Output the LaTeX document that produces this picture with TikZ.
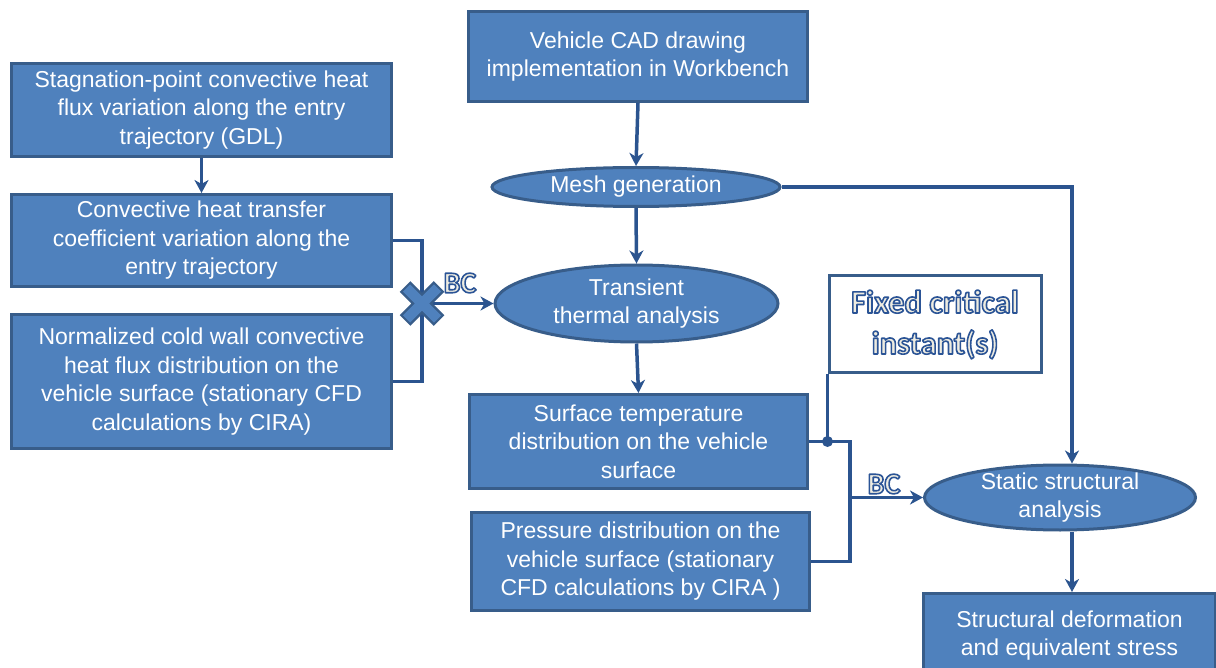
\documentclass[tikz,border=0pt]{standalone}
\usepackage{fontspec}
\setmainfont{Liberation Sans}
\newfontfamily\carlito{Carlito}
\usetikzlibrary{arrows.meta,shapes.geometric,calc}
\definecolor{fillc}{HTML}{4F81BD}
\definecolor{bord}{HTML}{385D8A}
\definecolor{conn}{HTML}{2B548F}
\definecolor{cream}{HTML}{EEECE1}
\newcommand{\olt}[1]{\special{pdf:literal 2 Tr 1.6 w 1 j 0.17 0.33 0.59 RG}#1\special{pdf:literal 0 Tr}}
\tikzset{
  box/.style={draw=bord, fill=fillc, line width=3pt, text=white, align=center, inner sep=0pt,
    font={\fontsize{23}{28.5}\selectfont}, anchor=north west},
  ell/.style={ellipse, draw=bord, fill=fillc, line width=3pt, text=white, align=center, inner sep=-20pt,
    font={\fontsize{23}{28.5}\selectfont}},
  conline/.style={draw=conn, line width=3.5pt},
  arr/.style={conline, -{Stealth[length=13pt,width=14pt,inset=4pt]}},
  bclabel/.style={text=cream, font={\carlito\bfseries\fontsize{30}{30}\selectfont}, inner sep=0pt},
}
\begin{document}
\begin{tikzpicture}[x=1pt,y=-1pt]
\useasboundingbox (0,0) rectangle (1216,668);
% boxes
\node[box, minimum width=339pt, minimum height=90pt] (cad) at (467,10) {Vehicle CAD drawing\\implementation in Workbench};
\node[box, minimum width=380pt, minimum height=93pt] (stag) at (10,62) {Stagnation-point convective heat\\flux variation along the entry\\trajectory (GDL)};
\node[box, minimum width=380pt, minimum height=92pt] (conv) at (10,193) {Convective heat transfer\\coefficient variation along the\\entry trajectory};
\node[box, minimum width=380pt, minimum height=134pt] (norm) at (10,313) {Normalized cold wall convective\\heat flux distribution on the\\vehicle surface (stationary CFD\\calculations by CIRA)};
\node[box, minimum width=338pt, minimum height=94pt] (surf) at (468,393) {Surface temperature\\distribution on the vehicle\\surface};
\node[box, minimum width=338pt, minimum height=98pt] (press) at (470,511) {Pressure distribution on the\\vehicle surface (stationary\\CFD calculations by CIRA )};
\node[box, minimum width=292pt, minimum height=84pt] (struct) at (922,592) {Structural deformation\\and equivalent stress};
% ellipses
\node[ell, minimum width=288pt, minimum height=39pt] (mesh) at (636,187) {Mesh generation};
\node[ell, minimum width=283pt, minimum height=77pt] (trans) at (636.5,303.5) {Transient\\thermal analysis};
\node[ell, minimum width=271pt, minimum height=65pt] (static) at (1060,497.5) {Static structural\\analysis};
% fixed critical box
\node[draw=bord, fill=white, line width=3pt, minimum width=212pt, minimum height=97pt, inner sep=0pt, align=center,
  text=cream, font={\carlito\bfseries\fontsize{32.5}{41}\selectfont}] (fixed) at (935,324.5)
  {\olt{Fixed critical}\\\olt{instant(s)}};
% coordinates
\coordinate (bx) at (422,303.5);
\coordinate (rx) at (850,497.5);
\coordinate (mx) at (1072,187);
% connectors
\draw[arr] (cad.south) -- (mesh.north);
\draw[arr] (stag.south) -- (conv.north);
\draw[arr] (mesh.south) -- (trans.north);
\draw[arr] (trans.south) -- (surf.north);
\draw[conline] (conv.east) -| (norm.east -| bx) -- (norm.east);
\draw[arr] (bx) -- (trans.west);
\draw[conline] (surf.east) -| (press.east -| rx) -- (press.east);
\draw[arr] (rx) -- (static.west);
\draw[conline] (surf.east -| fixed.south west) -- (fixed.south west);
\fill[conn] (surf.east -| fixed.south west) circle (5.5pt);
\draw[arr] (mesh.east) -- (mx) -- (mx |- static.north);
\draw[arr] (static.south -| mx) -- (struct.north -| mx);
% cross marker
\draw[draw=bord, line width=15pt] ($(bx)+(-17,-17)$) -- ($(bx)+(17,17)$) ($(bx)+(-17,17)$) -- ($(bx)+(17,-17)$);
\draw[draw=fillc, line width=10pt] ($(bx)+(-15.5,-15.5)$) -- ($(bx)+(15.5,15.5)$) ($(bx)+(-15.5,15.5)$) -- ($(bx)+(15.5,-15.5)$);
% BC labels
\node[bclabel] (bc1) at (460,283) {\olt{BC}};
\node[bclabel] (bc2) at (884,484) {\olt{BC}};
\end{tikzpicture}
\end{document}
